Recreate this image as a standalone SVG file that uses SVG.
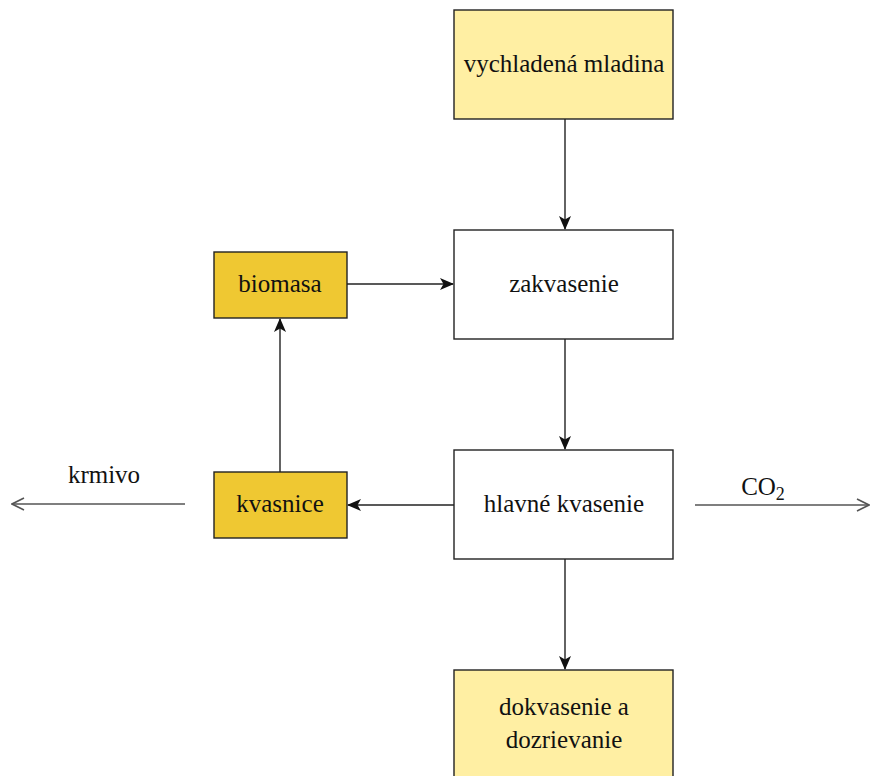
<svg xmlns="http://www.w3.org/2000/svg" width="871" height="776" viewBox="0 0 871 776">
<defs>
<style>
.box{stroke:#222;stroke-width:1.4}
.light{fill:#FFEFA3}
.dark{fill:#EFC832}
.white{fill:#fff}
.t{font-family:'Liberation Serif','Times New Roman','DejaVu Serif',serif;font-size:25px;fill:#111;text-anchor:middle}
.conn{stroke:#222;stroke-width:1.4;fill:none}
.out{stroke:#555;stroke-width:1.6;fill:none}
</style>
<marker id="arr" viewBox="0 0 14 12" refX="13" refY="6" markerWidth="14" markerHeight="12" markerUnits="userSpaceOnUse" orient="auto">
<path d="M0,0 L14,6 L0,12 L3.5,6 Z" fill="#111"/>
</marker>
<marker id="open" viewBox="0 0 14 14" refX="13" refY="7" markerWidth="14" markerHeight="14" markerUnits="userSpaceOnUse" orient="auto">
<path d="M1,1 L13,7 L1,13" fill="none" stroke="#555" stroke-width="1.6"/>
</marker>
</defs>
<rect width="871" height="776" fill="#fff"/>
<g id="connectors">
<line class="conn" x1="565" y1="119" x2="565" y2="229" marker-end="url(#arr)"/>
<line class="conn" x1="565" y1="339" x2="565" y2="449" marker-end="url(#arr)"/>
<line class="conn" x1="565" y1="559" x2="565" y2="669" marker-end="url(#arr)"/>
<line class="conn" x1="347" y1="284" x2="453" y2="284" marker-end="url(#arr)"/>
<line class="conn" x1="280" y1="472" x2="280" y2="319" marker-end="url(#arr)"/>
<line class="conn" x1="454" y1="505" x2="348" y2="505" marker-end="url(#arr)"/>
<line class="out" x1="185" y1="504" x2="12" y2="504" marker-end="url(#open)"/>
<line class="out" x1="695" y1="505" x2="869" y2="505" marker-end="url(#open)"/>
<text class="t" x="104" y="483">krmivo</text>
<text class="t" x="763" y="495">CO<tspan font-size="18" dy="5">2</tspan></text>
</g>
<g id="vychladena">
<rect class="box light" x="454" y="10" width="219" height="109"/>
<text class="t" x="564" y="72">vychladená mladina</text>
</g>
<g id="zakvasenie">
<rect class="box white" x="454" y="230" width="219" height="109"/>
<text class="t" x="564" y="292">zakvasenie</text>
</g>
<g id="hlavne">
<rect class="box white" x="454" y="450" width="219" height="109"/>
<text class="t" x="564" y="512">hlavné kvasenie</text>
</g>
<g id="dokvasenie">
<rect class="box light" x="454" y="670" width="219" height="112"/>
<text class="t" x="564" y="715">dokvasenie a</text>
<text class="t" x="564" y="748">dozrievanie</text>
</g>
<g id="biomasa">
<rect class="box dark" x="214" y="252" width="133" height="66"/>
<text class="t" x="280" y="292">biomasa</text>
</g>
<g id="kvasnice">
<rect class="box dark" x="214" y="472" width="133" height="66"/>
<text class="t" x="280" y="512">kvasnice</text>
</g>
</svg>
